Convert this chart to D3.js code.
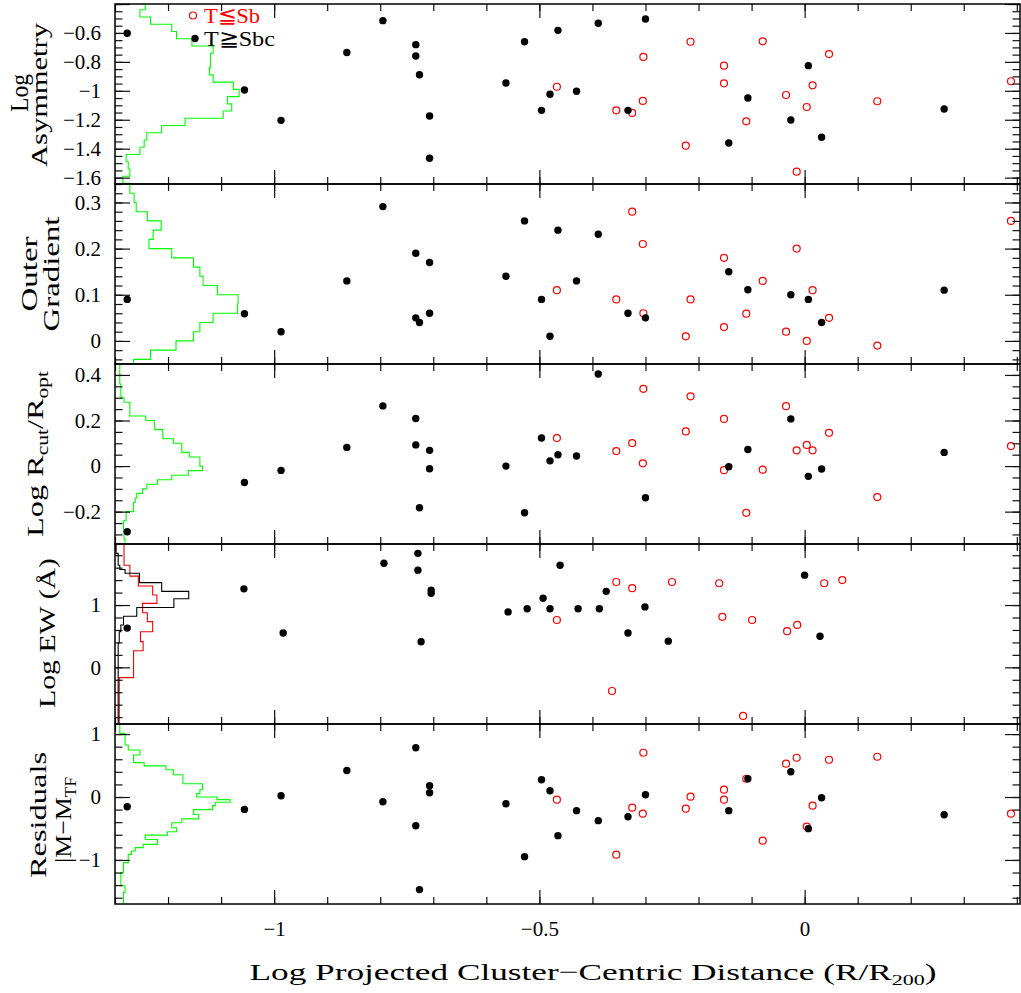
<!DOCTYPE html>
<html>
<head>
<meta charset="utf-8">
<script src="https://cdn.jsdelivr.net/npm/d3@7"></script>
<style>
  body { margin: 0; background: #fff; }
  text { font-family: "Liberation Serif", "Times New Roman", serif; }
</style>
</head>
<body>
<div id="chart"></div>
<script>
// Log projected cluster-centric distance, late types (filled) and early types (open)
var distBlack = [-1.277, -1.056, -0.987, -0.863, -0.795, -0.733, -0.733, -0.726, -0.707, -0.707,
                 -0.563, -0.528, -0.496, -0.480, -0.465, -0.430, -0.389, -0.333, -0.300, -0.143,
                 -0.107, -0.026, 0.007, 0.032, 0.263];
var distRed = [-0.467, -0.355, -0.325, -0.305, -0.304, -0.224, -0.215, -0.152, -0.152, -0.110,
               -0.079, -0.035, -0.015, 0.004, 0.015, 0.046, 0.137, 0.389];

// Log asymmetry
var asymBlack = [-0.602, -0.994, -1.204, -0.735, -0.515, -0.681, -0.759, -0.889, -1.174, -1.466,
                 -0.946, -0.661, -1.135, -1.024, -0.582, -1.003, -0.533, -1.135, -0.504, -1.361,
                 -1.050, -1.202, -0.826, -1.321, -1.126];
var asymRed = [-0.972, -1.135, -1.153, -1.070, -0.766, -1.379, -0.661, -0.826, -0.948, -1.211,
               -0.658, -1.029, -1.559, -1.112, -0.962, -0.746, -1.072, -0.934];

// Outer gradient
var gradBlack = [0.090, 0.059, 0.020, 0.130, 0.291, 0.190, 0.050, 0.040, 0.170, 0.060,
                 0.140, 0.260, 0.090, 0.010, 0.240, 0.130, 0.231, 0.060, 0.050, 0.150,
                 0.111, 0.100, 0.090, 0.040, 0.110];
var gradRed = [0.110, 0.090, 0.280, 0.210, 0.060, 0.010, 0.090, 0.180, 0.030, 0.059,
               0.130, 0.020, 0.200, 0.000, 0.110, 0.050, -0.010, 0.260];

// Log Rcut/Ropt
var rcutBlack = [-0.288, -0.072, -0.019, 0.082, 0.264, 0.209, 0.093, -0.183, 0.069, -0.012,
                 0.000, -0.205, 0.123, 0.023, 0.050, 0.044, 0.404, null, -0.139, -0.003,
                 0.073, 0.207, -0.045, -0.013, 0.060];
var rcutRed = [0.123, 0.066, 0.101, 0.012, 0.339, 0.152, 0.306, 0.207, -0.018, -0.205,
               -0.016, 0.263, 0.069, 0.093, 0.069, 0.146, -0.136, 0.088];

// Log EW, emission-line subsample
var ewDistBlack = [-1.277, -1.057, -0.983, -0.793, -0.729, -0.729, -0.723, -0.704, -0.704, -0.559,
                   -0.523, -0.493, -0.480, -0.461, -0.427, -0.387, -0.374, -0.333, -0.301, -0.257,
                   0.000, 0.029];
var ewBlack = [0.63, 1.26, 0.55, 1.67, 1.83, 1.56, 0.41, 1.24, 1.19, 0.89,
               0.94, 1.11, 0.94, 1.64, 0.94, 0.94, 1.22, 0.55, 0.97, 0.42,
               1.48, 0.50];
var ewDistRed = [-0.467, -0.355, -0.325, -0.363, -0.250, -0.161, -0.155, -0.099, -0.116, -0.033,
                 -0.014, 0.037, 0.071];
var ewRed = [0.76, 1.37, 1.27, -0.38, 1.37, 1.35, 0.81, 0.76, -0.78, 0.58,
             0.68, 1.35, 1.40];

// Tully-Fisher residuals
var residBlack = [-0.154, -0.197, 0.021, 0.422, -0.075, 0.783, -0.456, -1.471, 0.179, 0.068,
                  -0.106, -0.948, 0.275, 0.100, -0.614, -0.217, -0.376, -0.313, 0.037, -0.217,
                  0.290, 0.402, -0.503, -0.011, -0.281];
var residRed = [-0.043, -0.916, -0.170, -0.265, 0.703, -0.186, 0.005, 0.116, -0.043, 0.290,
                -0.694, 0.529, 0.624, -0.470, -0.138, 0.592, 0.640, -0.265];

// Comparison histograms: bin edges along y, bar length in distance units
var asymHistEdges = d3.range(27).map(function (k) { return -0.39 - 0.05 * k; });
var asymHist = [0.057, 0.047, 0.067, 0.107, 0.116, 0.145, 0.185, 0.180, 0.180, 0.178,
                0.185, 0.223, 0.234, 0.212, 0.220, 0.204, 0.132, 0.088, 0.060, 0.055,
                0.047, 0.021, 0.025, 0.028, 0.015, 0.028];

var gradHistEdges = d3.range(21).map(function (k) { return 0.34 - 0.02 * k; });
var gradHist = [0.028, 0.036, 0.040, 0.061, 0.087, 0.072, 0.064, 0.107, 0.148, 0.160,
                0.166, 0.193, 0.232, 0.231, 0.185, 0.160, 0.148, 0.115, 0.067, 0.035];

var rcutHistEdges = d3.range(42).map(function (k) { return 0.46 - 0.02 * k; });
var rcutHist = [0.009, 0.009, 0.009, 0.009, 0.009, 0.011, 0.011, 0.011, 0.017, 0.028,
                0.028, 0.028, 0.058, 0.074, 0.075, 0.090, 0.090, 0.110, 0.126, 0.126,
                0.140, 0.160, 0.160, 0.165, 0.138, 0.107, 0.080, 0.060, 0.052, 0.041,
                0.038, 0.035, 0.035, 0.021, 0.021, 0.016, 0.016, 0.017, 0.017, 0.019,
                0.019];

var ewHistEdgesBlack = [2.0, 1.83, 1.64, 1.57, 1.51, 1.36, 1.22, 1.10, 0.96, 0.82, 0.68, 0.57, 0.39, -1.0];
var ewHistBlack = [0.002, 0.006, 0.009, 0.019, 0.046, 0.088, 0.139, 0.111, 0.041, 0.016, 0.011, 0.008, 0.006];
var ewHistEdgesRed = [2.0, 1.64, 1.465, 1.305, 1.16, 1.027, 0.877, 0.733, 0.572, 0.412, 0.267, -0.166, -1.0];
var ewHistRed = [0.017, 0.028, 0.044, 0.071, 0.079, 0.052, 0.061, 0.071, 0.048, 0.053, 0.035, 0.008];

var residHistEdges = [1.147, 1.011, 0.826, 0.747, 0.668, 0.547, 0.495, 0.432, 0.353, 0.211,
                      0.116, 0.053, 0.0, -0.042, -0.084, -0.137, -0.2, -0.279, -0.347, -0.41,
                      -0.489, -0.553, -0.605, -0.674, -0.753, -0.805, -0.858, -0.911, -1.042, -1.2,
                      -1.411, -1.516, -1.7];
var residHist = [0.009, 0.019, 0.025, 0.047, 0.035, 0.055, 0.096, 0.110, 0.128, 0.165,
                 0.160, 0.154, 0.192, 0.217, 0.189, 0.184, 0.148, 0.158, 0.126, 0.107,
                 0.116, 0.099, 0.057, 0.080, 0.053, 0.038, 0.031, 0.025, 0.016, 0.011,
                 0.019, 0.016];

// Axis ticks and labels
var xMajorTicks = [-1, -0.5, 0];
var legendLabels = ["T\u2266Sb", "T\u2267Sbc"];
var xTitle = ["Log Projected Cluster\u2212Centric Distance (R/R", "200", ")"];


function stackedPanels(selection) {
  var width = 1021;
  var height = 993;
  var margins = { top: 4, left: 115, right: 1 };
  var panelH = 180;
  var left = margins.left, right = width - margins.right;
  var svg;

  var scaleX = d3.scaleLinear().domain([-1.3, 0.406]).range([left, right]);

  var panels = [
    { domain: [-1.644, -0.4], major: 0.2, minor: 0.05,
      black: [distBlack, asymBlack], red: [distRed, asymRed],
      hists: [{ edges: asymHistEdges, vals: asymHist, color: "#00ff00" }],
      title: [{ parts: [["Log"]], x: 28, y: 93, len: 38, size: 26 },
              { parts: [["Asymmetry"]], x: 47, y: 95, len: 144 }] },
    { domain: [-0.05, 0.34], major: 0.1, minor: 0.02,
      black: [distBlack, gradBlack], red: [distRed, gradRed],
      hists: [{ edges: gradHistEdges, vals: gradHist, color: "#00ff00" }],
      title: [{ parts: [["Outer"]], x: 37, y: 274, len: 75 },
              { parts: [["Gradient"]], x: 59, y: 274, len: 115 }] },
    { domain: [-0.342, 0.448], major: 0.2, minor: 0.05,
      black: [distBlack, rcutBlack], red: [distRed, rcutRed],
      hists: [{ edges: rcutHistEdges, vals: rcutHist, color: "#00ff00" }],
      title: [{ parts: [["Log  R"], ["cut", 1], ["/R"], ["opt", 1]], x: 43, y: 454, len: 166 }] },
    { domain: [-0.91, 1.98], major: 1, minor: 0.2,
      black: [ewDistBlack, ewBlack], red: [ewDistRed, ewRed],
      hists: [{ edges: ewHistEdgesRed, vals: ewHistRed, color: "#ff0000" },
              { edges: ewHistEdgesBlack, vals: ewHistBlack, color: "#000" }],
      title: [{ parts: [["Log  EW  (\u00c5)"]], x: 55, y: 633, len: 150 }] },
    { domain: [-1.70, 1.16], major: 1, minor: 0.2,
      black: [distBlack, residBlack], red: [distRed, residRed],
      hists: [{ edges: residHistEdges, vals: residHist, color: "#00ff00" }],
      title: [{ parts: [["Residuals"]], x: 46, y: 815, len: 126 },
              { parts: [["|M\u2212M"], ["TF", 1]], x: 71, y: 820, len: 86 }] }
  ];

  function tickRange(domain, step) {
    var lo = Math.min(domain[0], domain[1]), hi = Math.max(domain[0], domain[1]);
    return d3.range(Math.ceil(lo / step - 1e-6), Math.floor(hi / step + 1e-6) + 1)
      .map(function (k) { return +(k * step).toFixed(4); });
  }

  function fmt(d) {
    return String(+d.toFixed(2)).replace("-", "\u2212");
  }

  function renderBody() {
    svg = selection.append("svg")
      .attr("width", width)
      .attr("height", height)
      .attr("xmlns", "http://www.w3.org/2000/svg")
      .style("background", "#fff");
  }

  function styleAxis(g) {
    g.select(".domain").remove();
    g.selectAll("line").attr("stroke", "#111").attr("stroke-width", 1.2);
    g.selectAll("text")
      .attr("fill", "#000")
      .style("font-family", "'Liberation Serif', serif")
      .style("font-size", "21px");
  }

  function renderPanel(p, i) {
    var top = margins.top + i * panelH;
    var bottom = top + panelH;
    var scaleY = d3.scaleLinear().domain(p.domain).range([bottom, top]);
    var g = svg.append("g").attr("class", "panel-" + i);

    svg.append("clipPath").attr("id", "clip" + i)
      .append("rect")
        .attr("x", left).attr("y", top)
        .attr("width", right - left).attr("height", panelH);

    // Step histograms hanging off the left axis
    p.hists.forEach(function (h) {
      var pts = [];
      h.vals.forEach(function (v, k) {
        pts.push([-1.3 + v, h.edges[k]]);
        pts.push([-1.3 + v, h.edges[k + 1]]);
      });
      var line = d3.line()
        .x(function (d) { return scaleX(d[0]); })
        .y(function (d) { return scaleY(d[1]); });
      g.append("path")
        .attr("d", line(pts))
        .attr("fill", "none")
        .attr("stroke", h.color)
        .attr("stroke-width", 1.1)
        .attr("clip-path", "url(#clip" + i + ")");
    });

    // Early types: open red circles
    var red = d3.zip(p.red[0], p.red[1]).filter(function (d) { return d[1] != null; });
    g.selectAll("circle.red")
      .data(red)
      .enter()
      .append("circle")
        .attr("class", "red")
        .attr("cx", function (d) { return scaleX(d[0]); })
        .attr("cy", function (d) { return scaleY(d[1]); })
        .attr("r", 3.5)
        .attr("fill", "none")
        .attr("stroke", "#ff0000")
        .attr("stroke-width", 1.2);

    // Late types: filled black dots
    var black = d3.zip(p.black[0], p.black[1]).filter(function (d) { return d[1] != null; });
    g.selectAll("circle.black")
      .data(black)
      .enter()
      .append("circle")
        .attr("class", "black")
        .attr("cx", function (d) { return scaleX(d[0]); })
        .attr("cy", function (d) { return scaleY(d[1]); })
        .attr("r", 3.7)
        .attr("fill", "#000");

    // Ticks on all four sides, pointing inward
    var yMajor = tickRange(p.domain, p.major);
    var yMinor = tickRange(p.domain, p.minor);
    var xMinor = tickRange(scaleX.domain(), 0.1);
    // only label ticks that sit clearly inside the panel
    var labelled = yMajor.filter(function (d) {
      return scaleY(d) > top + 6 && scaleY(d) < bottom - 6;
    });

    g.append("g").attr("transform", "translate(" + left + ",0)")
      .call(d3.axisLeft(scaleY).tickValues(yMinor).tickSize(-7.5).tickFormat(""))
      .call(styleAxis);
    g.append("g").attr("transform", "translate(" + left + ",0)")
      .call(d3.axisLeft(scaleY).tickValues(yMajor).tickSize(-15).tickPadding(14)
        .tickFormat(function (d) { return labelled.indexOf(d) >= 0 ? fmt(d) : ""; }))
      .call(styleAxis);
    g.append("g").attr("transform", "translate(" + right + ",0)")
      .call(d3.axisRight(scaleY).tickValues(yMinor).tickSize(-7.5).tickFormat(""))
      .call(styleAxis);
    g.append("g").attr("transform", "translate(" + right + ",0)")
      .call(d3.axisRight(scaleY).tickValues(yMajor).tickSize(-15).tickFormat(""))
      .call(styleAxis);

    g.append("g").attr("transform", "translate(0," + top + ")")
      .call(d3.axisTop(scaleX).tickValues(xMinor).tickSize(-7).tickFormat(""))
      .call(styleAxis);
    g.append("g").attr("transform", "translate(0," + top + ")")
      .call(d3.axisTop(scaleX).tickValues(xMajorTicks).tickSize(-14).tickFormat(""))
      .call(styleAxis);
    g.append("g").attr("transform", "translate(0," + bottom + ")")
      .call(d3.axisBottom(scaleX).tickValues(xMinor).tickSize(-7).tickFormat(""))
      .call(styleAxis);
    var last = i === panels.length - 1;
    g.append("g").attr("transform", "translate(0," + bottom + ")")
      .call(d3.axisBottom(scaleX).tickValues(xMajorTicks).tickSize(-14).tickPadding(17)
        .tickFormat(last ? fmt : ""))
      .call(styleAxis);

    g.append("rect")
      .attr("x", left).attr("y", top)
      .attr("width", right - left).attr("height", panelH)
      .attr("fill", "none")
      .attr("stroke", "#000")
      .attr("stroke-width", 1.5);

    // Rotated y titles
    p.title.forEach(function (t) {
      var size = t.size || 24;
      var txt = svg.append("text")
        .attr("transform", "translate(" + t.x + "," + t.y + ") rotate(-90)")
        .attr("text-anchor", "middle")
        .style("font-size", size + "px")
        .attr("fill", "#000");
      if (t.len) txt.attr("textLength", t.len).attr("lengthAdjust", "spacingAndGlyphs");
      var shifted = false;
      t.parts.forEach(function (part) {
        var sub = !!part[1];
        var dy = sub && !shifted ? 5 : (!sub && shifted ? -5 : 0);
        shifted = sub;
        txt.append("tspan")
          .attr("dy", dy)
          .style("font-size", sub ? "16px" : size + "px")
          .text(part[0]);
      });
    });
  }

  function renderLegend() {
    var lg = svg.append("g").attr("class", "legend");
    lg.append("circle").attr("cx", 193).attr("cy", 15.5).attr("r", 3.5)
      .attr("fill", "none").attr("stroke", "#ff0000").attr("stroke-width", 1.2);
    lg.append("circle").attr("cx", 195).attr("cy", 38.5).attr("r", 3.7).attr("fill", "#000");
    lg.append("text").attr("x", 204).attr("y", 23).attr("fill", "#ff0000")
      .attr("textLength", 56).attr("lengthAdjust", "spacingAndGlyphs")
      .style("font-size", "22px").text(legendLabels[0]);
    lg.append("text").attr("x", 204).attr("y", 46).attr("fill", "#000")
      .attr("textLength", 71).attr("lengthAdjust", "spacingAndGlyphs")
      .style("font-size", "22px").text(legendLabels[1]);
  }

  function renderXTitle() {
    var t = svg.append("text")
      .attr("x", 593).attr("y", 980)
      .attr("text-anchor", "middle")
      .attr("textLength", 687)
      .attr("lengthAdjust", "spacingAndGlyphs")
      .style("font-size", "24px")
      .attr("fill", "#000");
    t.append("tspan").text(xTitle[0]);
    t.append("tspan").attr("dy", 5).style("font-size", "15px").text(xTitle[1]);
    t.append("tspan").attr("dy", -5).text(xTitle[2]);
  }

  var chart = {};
  chart.render = function () {
    renderBody();
    panels.forEach(renderPanel);
    renderLegend();
    renderXTitle();
    return chart;
  };
  return chart;
}

stackedPanels(d3.select("#chart")).render();
</script>
</body>
</html>
